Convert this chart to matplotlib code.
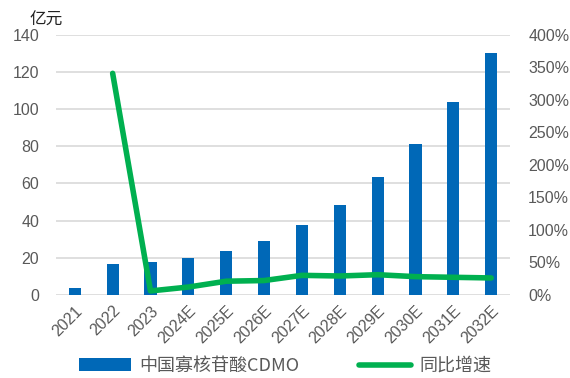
import matplotlib.pyplot as plt
from matplotlib.ticker import FuncFormatter
import numpy as np

plt.rcParams['font.family'] = ['Liberation Sans', 'Noto Sans CJK SC', 'DejaVu Sans']

years = ['2021', '2022', '2023', '2024E', '2025E', '2026E', '2027E',
         '2028E', '2029E', '2030E', '2031E', '2032E']
# market size, 100 million yuan
market = [3.8, 16.8, 17.8, 19.9, 23.7, 29.0, 37.7, 48.5, 63.5, 81.3, 103.8, 130.3]
# year-on-year growth, %
growth = [np.nan, 341, 6, 12, 21, 22, 30, 29, 31, 28, 27, 26]

blue = '#0068B7'
green = '#00B050'
grey = '#595959'

fig = plt.figure(figsize=(5.7, 3.78), dpi=100)
ax = fig.add_axes([0.098, 0.22, 0.797, 0.6874])
x = np.arange(len(years))

ax.bar(x, market, width=0.32, color=blue, zorder=2, label='中国寡核苷酸CDMO')
ax.set_ylim(0, 140)
ax.set_yticks(range(0, 141, 20))
ax.set_xlim(-0.5, len(years) - 0.5)
ax.grid(axis='y', color='#D9D9D9', linewidth=1.2, zorder=0)
ax.set_axisbelow(True)
for s in ax.spines.values():
    s.set_visible(False)
ax.tick_params(axis='both', length=0, colors=grey, labelsize=11.5)
ax.tick_params(axis='y', pad=12)
ax.set_xticks(x)
ax.set_xticklabels(years, rotation=45, ha='right', rotation_mode='anchor',
                   fontsize=11.5)
ax.tick_params(axis='x', pad=6)

ax2 = ax.twinx()
ax2.plot(x, growth, color=green, linewidth=4, solid_capstyle='round',
         solid_joinstyle='round', zorder=3, label='同比增速')
ax2.set_ylim(0, 400)
ax2.set_yticks(range(0, 401, 50))
ax2.yaxis.set_major_formatter(FuncFormatter(lambda v, p: f'{v:.0f}%'))
for s in ax2.spines.values():
    s.set_visible(False)
ax2.tick_params(axis='y', length=0, colors=grey, labelsize=11.5, pad=13)

fig.text(0.052, 0.935, '亿元', fontsize=12, color='#222222',
         family=['Noto Sans CJK SC'])

h1, l1 = ax.get_legend_handles_labels()
h2, l2 = ax2.get_legend_handles_labels()
leg = fig.legend(h1 + h2, l1 + l2, loc='lower center', ncol=2,
                 bbox_to_anchor=(0.5, -0.035), frameon=False,
                 handlelength=2.9, handletextpad=0.45, columnspacing=3.3,
                 prop={'family': ['Noto Sans CJK SC'], 'size': 13})
for t in leg.get_texts():
    t.set_color(grey)

fig.savefig('out.png', dpi=100)
